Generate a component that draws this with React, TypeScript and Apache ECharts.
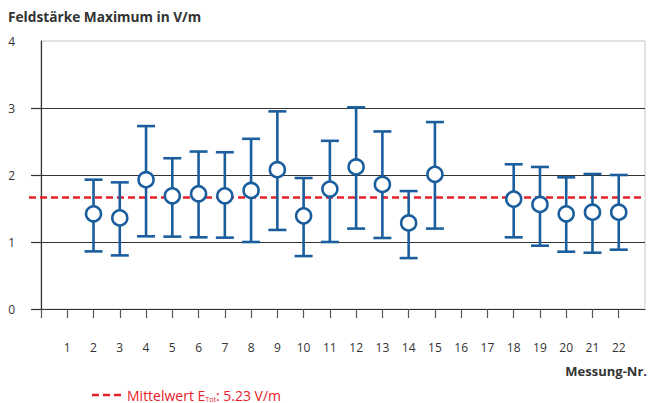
import React, { useEffect, useRef } from "react";
import * as echarts from "echarts";

// Data
const MEASUREMENT_NR = [2, 3, 4, 5, 6, 7, 8, 9, 10, 11, 12, 13, 14, 15, 18, 19, 20, 21, 22];
const VALUES = [1.42, 1.36, 1.93, 1.69, 1.72, 1.69, 1.77, 2.08, 1.39, 1.79, 2.12, 1.86, 1.285, 2.01, 1.64, 1.56, 1.42, 1.445, 1.445];
const LOWER = [0.86, 0.8, 1.085, 1.08, 1.07, 1.065, 1.0, 1.18, 0.79, 1.0, 1.2, 1.06, 0.76, 1.2, 1.07, 0.945, 0.855, 0.84, 0.885];
const UPPER = [1.93, 1.89, 2.73, 2.25, 2.35, 2.34, 2.54, 2.95, 1.955, 2.51, 3.01, 2.65, 1.76, 2.79, 2.16, 2.12, 1.965, 2.015, 2.0];
const MEAN = 1.665;
const X_TICK_LABELS = ["1", "2", "3", "4", "5", "6", "7", "8", "9", "10", "11", "12", "13", "14", "15", "16", "17", "18", "19", "20", "21", "22"];
const Y_TICKS = [0, 1, 2, 3];

const TITLE = "Feldstärke Maximum in V/m";
const X_NAME = "Messung-Nr.";

const BLUE = "#1b5e9e";
const RED = "#e8202a";
const DARK = "#333333";
const FONT = "'Open Sans', 'Noto Sans', sans-serif";

export default function App() {
  const ref = useRef<HTMLDivElement>(null);

  useEffect(() => {
    if (!ref.current) return;
    const chart = echarts.init(ref.current, undefined, { renderer: "svg" });

    const errData = MEASUREMENT_NR.map((n, i) => [n, LOWER[i], UPPER[i]]);
    const pointData = MEASUREMENT_NR.map((n, i) => [n, VALUES[i]]);

    chart.setOption({
      animation: false,
      textStyle: { fontFamily: FONT },
      grid: {
        left: 41,
        right: 1,
        top: 41,
        bottom: 94,
        show: true,
        borderColor: "#c8c8c8",
        borderWidth: 1,
      },
      xAxis: {
        type: "value",
        min: 0,
        max: 23,
        interval: 1,
        axisLine: { show: true, onZero: false, lineStyle: { color: DARK, width: 1.2 } },
        axisTick: {
          show: true,
          length: 9,
          lineStyle: { color: "#555", width: 1.2 },
          customValues: [0, 1, 2, 3, 4, 5, 6, 7, 8, 9, 10, 11, 12, 13, 14, 15, 16, 17, 18, 19, 20, 21, 22],
        },
        axisLabel: {
          margin: 32,
          fontSize: 12,
          color: DARK,
          fontFamily: FONT,
          formatter: (v: number) => (v >= 1 && v <= 22 ? X_TICK_LABELS[v - 1] : ""),
        },
        splitLine: { show: false },
      },
      yAxis: {
        type: "value",
        min: 0,
        max: 4,
        interval: 1,
        axisLine: { show: true, lineStyle: { color: DARK, width: 1.2 } },
        axisTick: {
          show: true,
          length: 10,
          customValues: Y_TICKS,
          lineStyle: { color: DARK, width: 1.2 },
        },
        axisLabel: {
          margin: 26,
          fontSize: 12,
          color: DARK,
          fontFamily: FONT,
          align: "right",
        },
        splitLine: { show: true, lineStyle: { color: DARK, width: 1.2 } },
      },
      series: [
        {
          type: "custom",
          name: "mean",
          z: 1,
          clip: false,
          data: [[MEAN]],
          renderItem: (params: any, api: any) => {
            const a = api.coord([0, api.value(0)]);
            const b = api.coord([23, api.value(0)]);
            return {
              type: "line",
              shape: { x1: a[0] - 12, y1: a[1], x2: b[0], y2: b[1] },
              style: { stroke: RED, lineWidth: 2.6, lineDash: [7, 4] },
            };
          },
        },
        {
          type: "custom",
          name: "range",
          z: 2,
          data: errData,
          renderItem: (params: any, api: any) => {
            const x = api.value(0);
            const lo = api.coord([x, api.value(1)]);
            const hi = api.coord([x, api.value(2)]);
            const hw = 9;
            const st = { stroke: BLUE, lineWidth: 2.6 };
            return {
              type: "group",
              children: [
                { type: "line", shape: { x1: lo[0], y1: lo[1], x2: hi[0], y2: hi[1] }, style: st },
                { type: "line", shape: { x1: lo[0] - hw, y1: lo[1], x2: lo[0] + hw, y2: lo[1] }, style: st },
                { type: "line", shape: { x1: hi[0] - hw, y1: hi[1], x2: hi[0] + hw, y2: hi[1] }, style: st },
              ],
            };
          },
        },
        {
          type: "scatter",
          name: "value",
          z: 3,
          symbol: "circle",
          symbolSize: 15,
          itemStyle: { color: "#ffffff", borderColor: BLUE, borderWidth: 2.6, opacity: 1 },
          data: pointData,
        },
      ],
      graphic: [
        {
          type: "text",
          left: 8,
          top: 9,
          style: {
            text: TITLE,
            fill: DARK,
            font: `bold 13.7px ${FONT}`,
          },
        },
        {
          type: "text",
          right: 1,
          top: 364,
          style: {
            text: X_NAME,
            fill: DARK,
            font: `bold 13px ${FONT}`,
          },
        },
        {
          type: "line",
          shape: { x1: 92, y1: 395, x2: 123, y2: 395 },
          style: { stroke: RED, lineWidth: 2.6, lineDash: [7, 4] },
        },
        {
          type: "text",
          x: 127,
          y: 388,
          style: {
            text: "{a|Mittelwert E}{s|Tot}{a|: 5.23 V/m}",
            rich: {
              a: { fill: RED, fontSize: 14, fontFamily: FONT, lineHeight: 12, verticalAlign: "top" },
              s: { fill: RED, fontSize: 7, fontFamily: FONT, lineHeight: 6, padding: [8, 0, 0, 0], verticalAlign: "top" },
            },
          },
        },
      ],
    });

    return () => chart.dispose();
  }, []);

  return <div ref={ref} style={{ width: 648, height: 403, position: "absolute", left: 0, top: 0 }} />;
}
